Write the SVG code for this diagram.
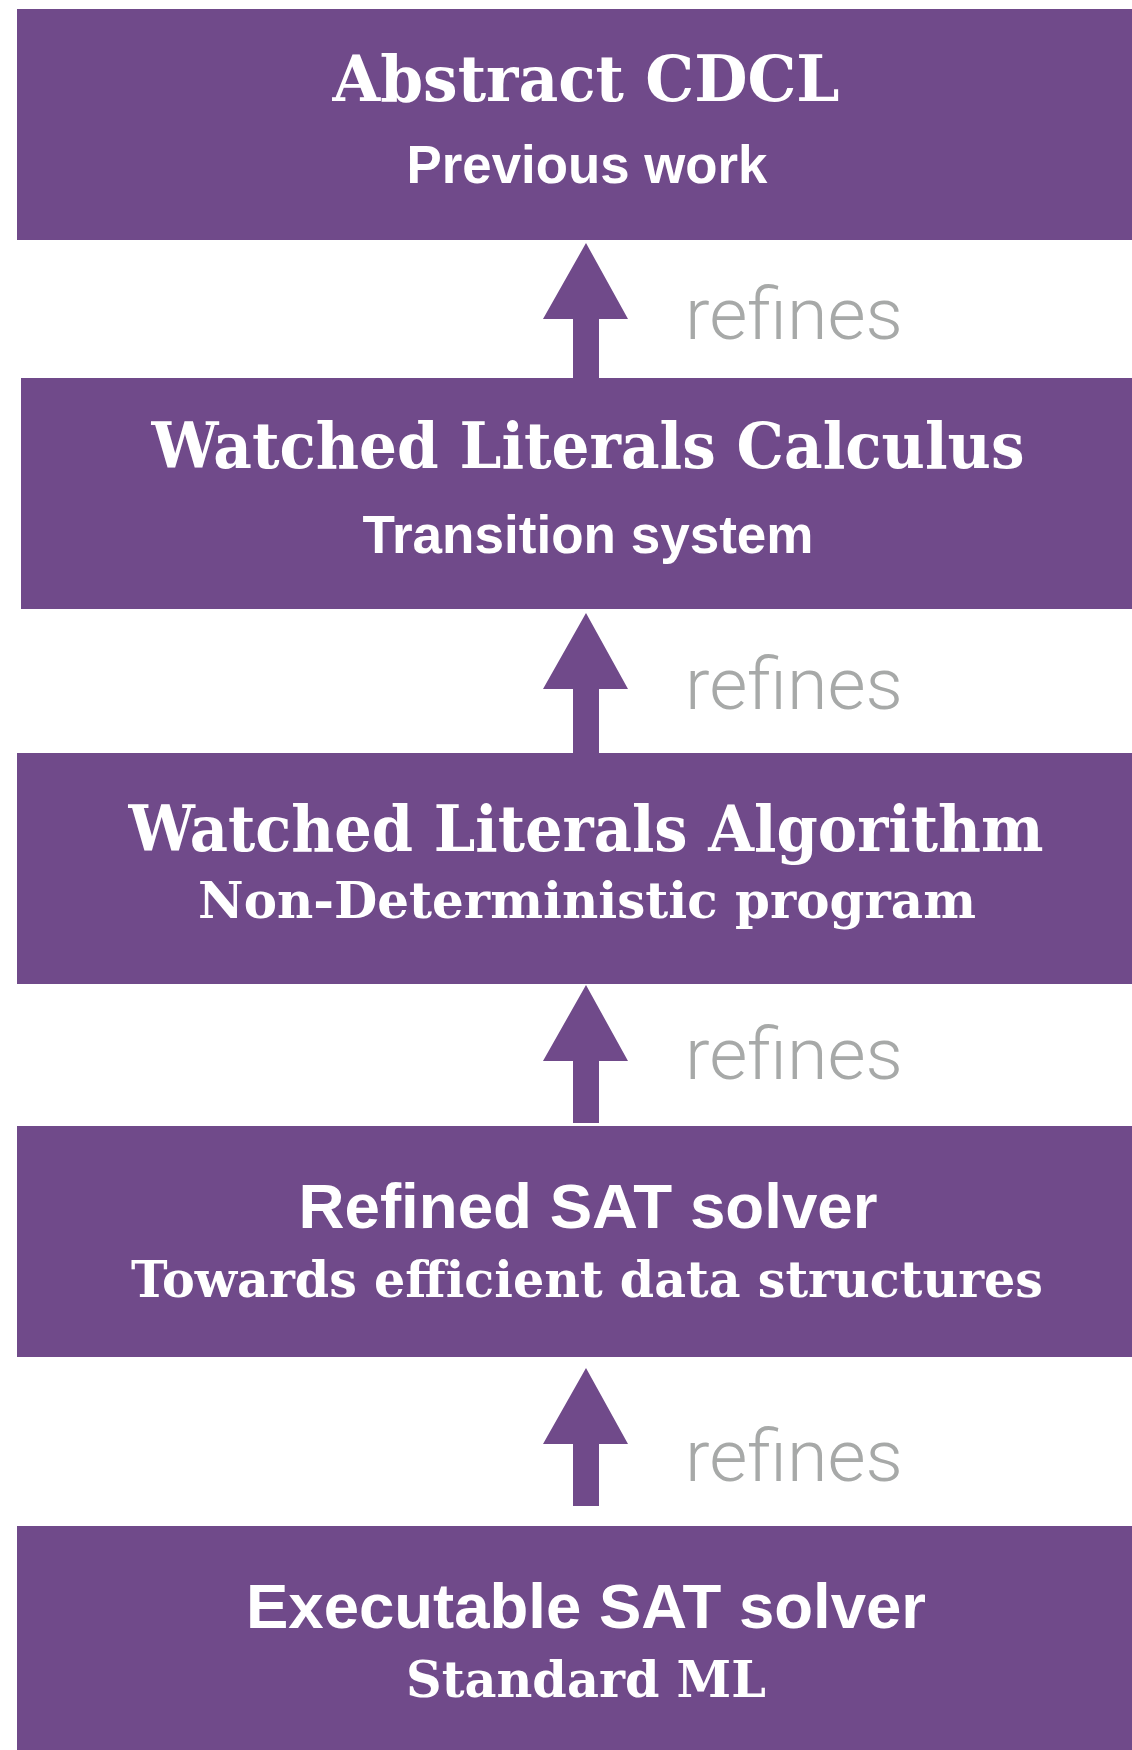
<svg xmlns="http://www.w3.org/2000/svg" width="1132" height="1750" viewBox="0 0 1132 1750">
<defs>
<style>
.box{fill:#704a8a;}
.slab{font-family:"DejaVu Serif","Liberation Serif",serif;font-weight:bold;fill:#ffffff;text-anchor:middle;}
.sans{font-family:"Liberation Sans",Arial,sans-serif;font-weight:bold;fill:#ffffff;text-anchor:middle;}
.lbl{font-family:Roboto,"Open Sans","Liberation Sans",sans-serif;font-weight:300;fill:#a7a9a8;font-size:73px;}
.arrow{fill:#704a8a;}
</style>
</defs>
<rect width="1132" height="1750" fill="#ffffff"/>
<g id="abstract-cdcl">
<rect class="box" x="17" y="9" width="1115" height="231"/>
<text class="slab" x="586" y="101" font-size="64" textLength="507" lengthAdjust="spacingAndGlyphs">Abstract CDCL</text>
<text class="sans" x="587" y="183" font-size="53" textLength="361" lengthAdjust="spacingAndGlyphs">Previous work</text>
</g>
<g id="wl-calculus">
<rect class="box" x="21" y="378" width="1111" height="231"/>
<text class="slab" x="588" y="468" font-size="64" textLength="873" lengthAdjust="spacingAndGlyphs">Watched Literals Calculus</text>
<text class="sans" x="588" y="553" font-size="53" textLength="451" lengthAdjust="spacingAndGlyphs">Transition system</text>
</g>
<g id="wl-algorithm">
<rect class="box" x="17" y="753" width="1115" height="231"/>
<text class="slab" x="586" y="851" font-size="64" textLength="915" lengthAdjust="spacingAndGlyphs">Watched Literals Algorithm</text>
<text class="slab" x="587" y="918" font-size="51" textLength="778" lengthAdjust="spacingAndGlyphs">Non-Deterministic program</text>
</g>
<g id="refined-sat">
<rect class="box" x="17" y="1126" width="1115" height="231"/>
<text class="sans" x="588" y="1228" font-size="63" textLength="579" lengthAdjust="spacingAndGlyphs">Refined SAT solver</text>
<text class="slab" x="587" y="1297" font-size="51" textLength="912" lengthAdjust="spacingAndGlyphs">Towards efficient data structures</text>
</g>
<g id="executable-sat">
<rect class="box" x="17" y="1526" width="1115" height="224"/>
<text class="sans" x="586" y="1628" font-size="63" textLength="680" lengthAdjust="spacingAndGlyphs">Executable SAT solver</text>
<text class="slab" x="586" y="1697" font-size="51" textLength="360" lengthAdjust="spacingAndGlyphs">Standard ML</text>
</g>
<g id="connectors">
<polygon class="arrow" points="586,243 628,319 599,319 599,378 573,378 573,319 543,319"/>
<text class="lbl" x="685" y="339" textLength="218" lengthAdjust="spacingAndGlyphs">refines</text>
<polygon class="arrow" points="586,613 628,689 599,689 599,753 573,753 573,689 543,689"/>
<text class="lbl" x="685" y="709" textLength="218" lengthAdjust="spacingAndGlyphs">refines</text>
<polygon class="arrow" points="586,985 628,1061 599,1061 599,1123 573,1123 573,1061 543,1061"/>
<text class="lbl" x="685" y="1079" textLength="218" lengthAdjust="spacingAndGlyphs">refines</text>
<polygon class="arrow" points="586,1368 628,1444 599,1444 599,1506 573,1506 573,1444 543,1444"/>
<text class="lbl" x="685" y="1481" textLength="218" lengthAdjust="spacingAndGlyphs">refines</text>
</g>
</svg>
